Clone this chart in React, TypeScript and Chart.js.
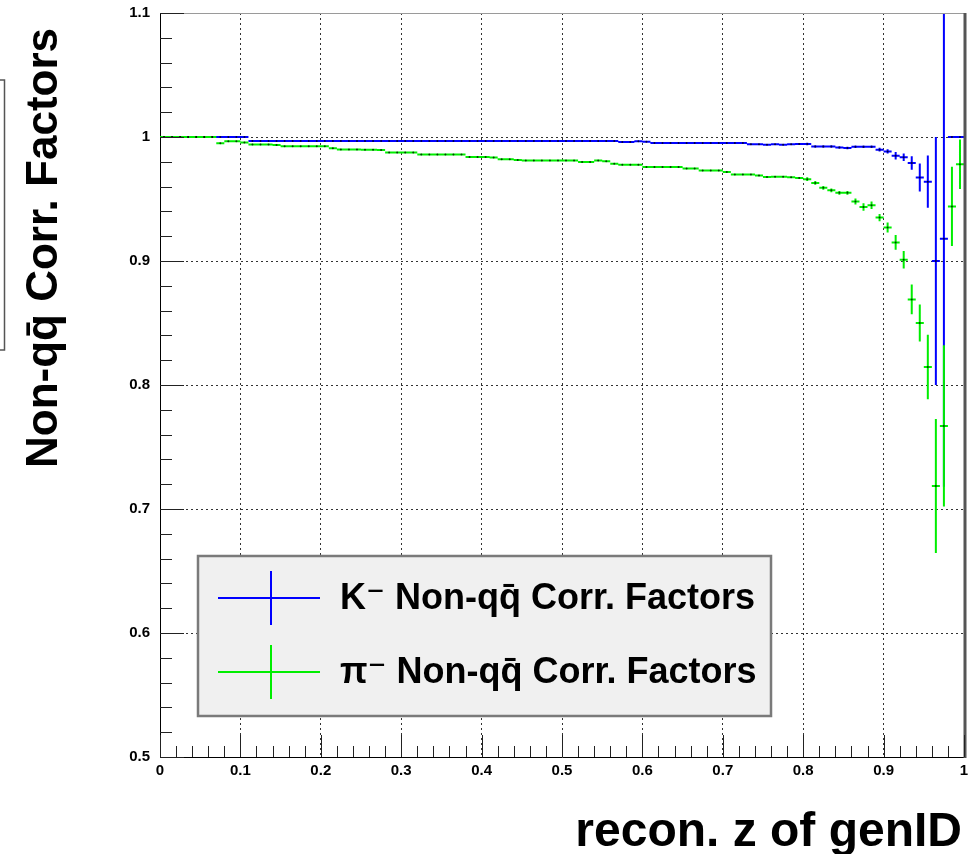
import React, { useEffect, useRef } from "react";
import { Chart, registerables } from "chart.js";

Chart.register(...registerables);

// ---- data ----
const binHalfWidth = 0.005;

const binCenters = [
  0.005, 0.015, 0.025, 0.035, 0.045, 0.055, 0.065, 0.075, 0.085, 0.095,
  0.105, 0.115, 0.125, 0.135, 0.145, 0.155, 0.165, 0.175, 0.185, 0.195,
  0.205, 0.215, 0.225, 0.235, 0.245, 0.255, 0.265, 0.275, 0.285, 0.295,
  0.305, 0.315, 0.325, 0.335, 0.345, 0.355, 0.365, 0.375, 0.385, 0.395,
  0.405, 0.415, 0.425, 0.435, 0.445, 0.455, 0.465, 0.475, 0.485, 0.495,
  0.505, 0.515, 0.525, 0.535, 0.545, 0.555, 0.565, 0.575, 0.585, 0.595,
  0.605, 0.615, 0.625, 0.635, 0.645, 0.655, 0.665, 0.675, 0.685, 0.695,
  0.705, 0.715, 0.725, 0.735, 0.745, 0.755, 0.765, 0.775, 0.785, 0.795,
  0.805, 0.815, 0.825, 0.835, 0.845, 0.855, 0.865, 0.875, 0.885, 0.895,
  0.905, 0.915, 0.925, 0.935, 0.945, 0.955, 0.965, 0.975, 0.985, 0.995,
];

const kaonValues = [
  1, 1, 1, 1, 1, 1, 1, 1, 1, 1,
  1, 0.9968, 0.9968, 0.9968, 0.9968, 0.9968, 0.9968, 0.9968, 0.9968, 0.9968,
  0.9968, 0.9968, 0.9968, 0.9968, 0.9968, 0.9968, 0.9968, 0.9968, 0.9968, 0.9968,
  0.9968, 0.9968, 0.9968, 0.9968, 0.9968, 0.9968, 0.9968, 0.9968, 0.9968, 0.9968,
  0.9968, 0.9968, 0.9968, 0.9968, 0.9968, 0.9968, 0.9968, 0.9968, 0.9968, 0.9968,
  0.9968, 0.9968, 0.9968, 0.9968, 0.9968, 0.9968, 0.9968, 0.996, 0.996, 0.9966,
  0.9962, 0.9952, 0.9952, 0.9952, 0.9952, 0.9952, 0.9952, 0.9952, 0.9952, 0.9952,
  0.9952, 0.9952, 0.9952, 0.9942, 0.9942, 0.9938, 0.9942, 0.9938, 0.9942, 0.9944,
  0.9944, 0.9924, 0.9924, 0.9924, 0.9916, 0.9911, 0.9922, 0.9922, 0.9922, 0.9898,
  0.9884, 0.9849, 0.9836, 0.979, 0.9674, 0.964, 0.9, 0.918, 1, 1,
];

const kaonErrors = [
  0.0003, 0.0003, 0.0003, 0.0003, 0.0003, 0.0003, 0.0003, 0.0003, 0.0003, 0.0003,
  0.0003, 0.0003, 0.0003, 0.0003, 0.0003, 0.0003, 0.0003, 0.0003, 0.0003, 0.0003,
  0.0003, 0.0003, 0.0003, 0.0003, 0.0003, 0.0003, 0.0003, 0.0003, 0.0003, 0.0003,
  0.0003, 0.0003, 0.0003, 0.0003, 0.0003, 0.0003, 0.0003, 0.0003, 0.0003, 0.0003,
  0.0003, 0.0003, 0.0003, 0.0003, 0.0003, 0.0003, 0.0003, 0.0003, 0.0003, 0.0003,
  0.0003, 0.0003, 0.0003, 0.0003, 0.0003, 0.0003, 0.0003, 0.0003, 0.0003, 0.0003,
  0.0006, 0.0006, 0.0006, 0.0006, 0.0006, 0.0006, 0.0006, 0.0006, 0.0006, 0.0006,
  0.0006, 0.0006, 0.0006, 0.0006, 0.0006, 0.0006, 0.0006, 0.0006, 0.0006, 0.0006,
  0.001, 0.001, 0.001, 0.001, 0.001, 0.001, 0.001, 0.001, 0.001, 0.0015,
  0.0018, 0.003, 0.003, 0.0054, 0.0113, 0.021, 0.1, 0.2, 0, 0,
];

const pionValues = [
  1, 1, 1, 1, 1, 1, 1, 0.995, 0.9965, 0.9965,
  0.9955, 0.994, 0.994, 0.994, 0.9935, 0.9925, 0.9925, 0.9925, 0.9925, 0.9925,
  0.9925, 0.991, 0.99, 0.99, 0.99, 0.9898, 0.9898, 0.9895, 0.9874, 0.9874,
  0.9874, 0.9874, 0.9858, 0.9858, 0.9858, 0.9858, 0.9858, 0.9858, 0.9839, 0.9839,
  0.9839, 0.9835, 0.982, 0.982, 0.9815, 0.981, 0.981, 0.981, 0.981, 0.981,
  0.981, 0.981, 0.9798, 0.9798, 0.981, 0.9805, 0.9785, 0.9777, 0.9777, 0.9777,
  0.9758, 0.9758, 0.9758, 0.9758, 0.9758, 0.9745, 0.9745, 0.973, 0.973, 0.973,
  0.9718, 0.9697, 0.9697, 0.9697, 0.969, 0.9677, 0.968, 0.968, 0.9675, 0.967,
  0.966, 0.963, 0.959, 0.957, 0.955, 0.955, 0.948, 0.9435, 0.945, 0.935,
  0.927, 0.915, 0.901, 0.869, 0.85, 0.8145, 0.7186, 0.767, 0.944, 0.978,
];

const pionErrors = [
  0.0005, 0.0005, 0.0005, 0.0005, 0.0005, 0.0005, 0.0005, 0.0005, 0.0005, 0.0005,
  0.0005, 0.0005, 0.0005, 0.0005, 0.0005, 0.0005, 0.0005, 0.0005, 0.0005, 0.0005,
  0.0005, 0.0005, 0.0005, 0.0005, 0.0005, 0.0005, 0.0005, 0.0005, 0.0005, 0.0005,
  0.0005, 0.0005, 0.0005, 0.0005, 0.0005, 0.0005, 0.0005, 0.0005, 0.0005, 0.0005,
  0.0008, 0.0008, 0.0008, 0.0008, 0.0008, 0.0008, 0.0008, 0.0008, 0.0008, 0.0008,
  0.0008, 0.0008, 0.0008, 0.0008, 0.0008, 0.0008, 0.0008, 0.0008, 0.0008, 0.0008,
  0.0008, 0.0008, 0.0008, 0.0008, 0.0008, 0.0008, 0.0008, 0.0008, 0.0008, 0.0008,
  0.0008, 0.0008, 0.0008, 0.0008, 0.0008, 0.0008, 0.0008, 0.0008, 0.0008, 0.0008,
  0.0015, 0.0015, 0.0015, 0.0015, 0.0015, 0.0015, 0.0025, 0.003, 0.003, 0.003,
  0.004, 0.006, 0.007, 0.012, 0.015, 0.026, 0.054, 0.065, 0.032, 0.02,
];

const seriesLabels = ["K\u207B Non-qq\u0304 Corr. Factors", "\u03C0\u207B Non-qq\u0304 Corr. Factors"];
const xTitle = "recon. z of genID";
const yTitle = "Non-qq\u0304 Corr. Factors";

const xTickValues = [0, 0.1, 0.2, 0.3, 0.4, 0.5, 0.6, 0.7, 0.8, 0.9, 1];
const xTickLabels = ["0", "0.1", "0.2", "0.3", "0.4", "0.5", "0.6", "0.7", "0.8", "0.9", "1"];
const yTickValues = [0.5, 0.6, 0.7, 0.8, 0.9, 1, 1.1];
const yTickLabels = ["0.5", "0.6", "0.7", "0.8", "0.9", "1", "1.1"];
const xMin = 0, xMax = 1, yMin = 0.5, yMax = 1.1;
const minorStep = 0.02;

// ---- styling ----
const FONT = '"Liberation Sans", Arial, Helvetica, "DejaVu Sans", sans-serif';
const KAON_COLOR = "#0000ff";
const PION_COLOR = "#00ee00";

function buildErrorBars(values: number[], errors: number[]) {
  const pts: { x: number; y: number | null }[] = [];
  for (let i = 0; i < binCenters.length; i++) {
    const c = binCenters[i];
    const v = values[i];
    const e = errors[i];
    pts.push({ x: c - binHalfWidth, y: v }, { x: c + binHalfWidth, y: v }, { x: c, y: null });
    if (e > 0) pts.push({ x: c, y: v - e }, { x: c, y: v + e }, { x: c, y: null });
  }
  return pts;
}

function centers(values: number[]) {
  return binCenters.map((c, i) => ({ x: c, y: values[i] }));
}

const decorPlugin = {
  id: "decor",
  afterDraw(chart: any) {
    const { ctx, chartArea: a, scales } = chart;
    const xs = scales.x;
    const ys = scales.y;
    const line = (x1: number, y1: number, x2: number, y2: number) => {
      ctx.beginPath();
      ctx.moveTo(x1, y1);
      ctx.lineTo(x2, y2);
      ctx.stroke();
    };
    ctx.save();

    // frame (top and right)
    ctx.strokeStyle = "#9a9a9a";
    ctx.lineWidth = 1;
    line(a.left, a.top + 0.5, a.right, a.top + 0.5);
    ctx.strokeStyle = "#555";
    ctx.lineWidth = 3;
    line(a.right + 1, a.top, a.right + 1, a.bottom + 1);

    // inner ticks
    ctx.strokeStyle = "#222";
    ctx.lineWidth = 1;
    const nx = Math.round((xMax - xMin) / minorStep);
    for (let k = 0; k <= nx; k++) {
      const v = xMin + k * minorStep;
      const px = Math.round(xs.getPixelForValue(v)) + 0.5;
      const len = k % 5 === 0 ? 22 : 11;
      line(px, a.bottom, px, a.bottom - len);
    }
    const ny = Math.round((yMax - yMin) / minorStep);
    for (let k = 0; k <= ny; k++) {
      const v = yMin + k * minorStep;
      const py = Math.round(ys.getPixelForValue(v)) + 0.5;
      const len = k % 5 === 0 ? 24 : 12;
      line(a.left, py, a.left + len, py);
    }

    // legend box
    const bx = 198, by = 556, bw = 573, bh = 160;
    ctx.fillStyle = "#f0f0f0";
    ctx.fillRect(bx, by, bw, bh);
    ctx.strokeStyle = "#7a7a7a";
    ctx.lineWidth = 2.5;
    ctx.strokeRect(bx, by, bw, bh);

    const entries = [
      { y: 598, color: KAON_COLOR, label: seriesLabels[0] },
      { y: 672, color: PION_COLOR, label: seriesLabels[1] },
    ];
    for (const e of entries) {
      ctx.strokeStyle = e.color;
      ctx.lineWidth = 2;
      line(218, e.y, 320, e.y);
      line(271, e.y - 27, 271, e.y + 27);
      ctx.fillStyle = "#000";
      ctx.font = `bold 36px ${FONT}`;
      ctx.textAlign = "left";
      ctx.textBaseline = "middle";
      ctx.fillText(e.label, 340, e.y + 1);
    }

    // axis titles
    ctx.fillStyle = "#000";
    ctx.font = `bold 48px ${FONT}`;
    ctx.textAlign = "right";
    ctx.textBaseline = "alphabetic";
    ctx.fillText(xTitle, 962, 846);

    ctx.save();
    ctx.translate(45, 248);
    ctx.rotate(-Math.PI / 2);
    ctx.font = `bold 44px ${FONT}`;
    ctx.textAlign = "center";
    ctx.textBaseline = "middle";
    ctx.fillText(yTitle, 0, 0);
    ctx.restore();

    // partial box at the far left edge
    ctx.strokeStyle = "#555";
    ctx.lineWidth = 1.5;
    ctx.beginPath();
    ctx.moveTo(0, 80);
    ctx.lineTo(4.5, 80);
    ctx.lineTo(4.5, 350);
    ctx.lineTo(0, 350);
    ctx.stroke();

    ctx.restore();
  },
};

export default function App() {
  const canvasRef = useRef<HTMLCanvasElement | null>(null);

  useEffect(() => {
    document.body.style.margin = "0";
    const canvas = canvasRef.current;
    if (!canvas) return;
    const gridColor = (c: any, n: number) =>
      c.index === 0 || c.index === n - 1 ? "rgba(0,0,0,0)" : "rgba(0,0,0,0.8)";

    const chart = new Chart(canvas, {
      type: "line",
      data: {
        datasets: [
          {
            type: "scatter",
            label: "pion markers",
            data: centers(pionValues),
            pointRadius: 1,
            pointBorderWidth: 0,
            pointBackgroundColor: "rgba(0,0,0,0.75)",
            showLine: false,
            order: -2,
          } as any,
          {
            type: "scatter",
            label: "kaon markers",
            data: centers(kaonValues),
            pointRadius: 1,
            pointBorderWidth: 0,
            pointBackgroundColor: "rgba(0,0,0,0.75)",
            showLine: false,
            order: -1,
          } as any,
          {
            label: seriesLabels[1],
            data: buildErrorBars(pionValues, pionErrors),
            borderColor: PION_COLOR,
            borderWidth: 2,
            pointRadius: 0,
            spanGaps: false,
            tension: 0,
            order: 0,
          },
          {
            label: seriesLabels[0],
            data: buildErrorBars(kaonValues, kaonErrors),
            borderColor: KAON_COLOR,
            borderWidth: 2,
            pointRadius: 0,
            spanGaps: false,
            tension: 0,
            order: 1,
          },
        ],
      },
      options: {
        animation: false,
        responsive: false,
        devicePixelRatio: 1,
        layout: { padding: { left: 0, top: 13, right: 8, bottom: 0 } },
        plugins: { legend: { display: false }, tooltip: { enabled: false } },
        scales: {
          x: {
            type: "linear",
            min: xMin,
            max: xMax,
            afterBuildTicks: (s: any) => {
              s.ticks = xTickValues.map((v) => ({ value: v }));
            },
            afterFit: (s: any) => {
              s.height = 97;
              s.paddingLeft = 0;
              s.paddingRight = 0;
            },
            ticks: {
              callback: (_v: any, i: number) => xTickLabels[i],
              font: { family: FONT, size: 15, weight: "bold" },
              color: "#000",
              padding: 5,
              maxRotation: 0,
              autoSkip: false,
            },
            grid: {
              drawTicks: false,
              color: (c: any) => gridColor(c, xTickValues.length),
              lineWidth: 1,
            },
            border: { display: true, color: "#000", width: 1, dash: [2, 3] },
          },
          y: {
            type: "linear",
            position: "left",
            min: yMin,
            max: yMax,
            afterBuildTicks: (s: any) => {
              s.ticks = yTickValues.map((v) => ({ value: v }));
            },
            afterFit: (s: any) => {
              s.width = 160;
              s.paddingTop = 0;
              s.paddingBottom = 0;
            },
            ticks: {
              callback: (_v: any, i: number) => yTickLabels[i],
              font: { family: FONT, size: 15, weight: "bold" },
              color: "#000",
              padding: 10,
              autoSkip: false,
            },
            grid: {
              drawTicks: false,
              color: (c: any) => gridColor(c, yTickValues.length),
              lineWidth: 1,
            },
            border: { display: true, color: "#000", width: 1, dash: [2, 3] },
          },
        },
      } as any,
      plugins: [decorPlugin],
    });
    return () => chart.destroy();
  }, []);

  return (
    <div style={{ width: 972, height: 854, background: "#fff" }}>
      <canvas ref={canvasRef} width={972} height={854} style={{ display: "block" }} />
    </div>
  );
}
